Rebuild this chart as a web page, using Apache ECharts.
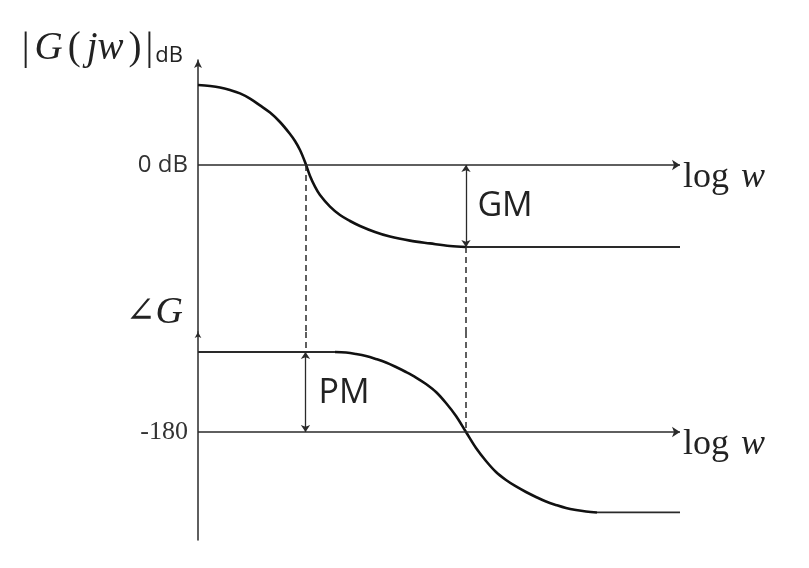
<!DOCTYPE html>
<html>
<head>
<meta charset="utf-8">
<script src="https://cdn.jsdelivr.net/npm/echarts@6/dist/echarts.min.js"></script>
<style>html,body{margin:0;padding:0;background:#fff;}#c{width:809px;height:568px;}</style>
</head>
<body>
<div id="c"></div>
<script>
// ---- data (schematic Bode plot) ----
// x: log w position (0..100), magnitude in dB, phase in degrees
const magX  = [0, 2.49, 4.56, 6.64, 8.71, 10.79, 12.86, 14.94, 17.01, 19.09, 20.12, 21.16, 22.2, 23.24, 24.27, 25.31, 27.39, 29.46, 31.54, 33.61, 36.72, 39.83, 43.98, 48.13, 52.28, 55.6];
const magDb = [20, 19.75, 19.4, 18.75, 17.9, 16.6, 14.9, 13.1, 10.75, 7.75, 6, 3.75, 0.75, -2.75, -5.4, -7.5, -10.4, -12.5, -14, -15.25, -16.75, -17.9, -18.9, -19.6, -20.25, -20.5];
const magTailX  = [55.6, 100];
const magTailDb = [-20.5, -20.5];
const phaseHeadX   = [0, 28.42];
const phaseHeadDeg = [-90, -90];
const phaseX   = [28.42, 30.71, 32.78, 34.85, 36.93, 39.0, 41.08, 43.15, 45.23, 47.3, 49.38, 51.45, 53.53, 55.6,
                  57.68, 59.75, 61.83, 63.9, 65.98, 68.05, 70.12, 72.2, 74.27, 76.35, 78.42, 80.5, 82.78];
const phaseDeg = [-90, -90.6, -92.25, -94.5, -97.9, -101.8, -106.9, -112.5, -118.7, -126, -135, -147.4, -162, -180,
                  -198, -212.6, -225, -234, -241.3, -247.5, -253.1, -258.2, -262.1, -265.5, -267.75, -269.4, -270.5];
const phaseTailX   = [82.78, 100];
const phaseTailDeg = [-270.5, -270.5];
const crossX = [22.3, 55.6];     // gain crossover, phase crossover
const gmDb = -20.5;              // magnitude at phase crossover
const pmDeg = -90;               // phase at gain crossover
const refDb = 0, refDeg = -180;
const magTicks = [0], magTickText = ['0 dB'];
const phaseTicks = [-180], phaseTickText = ['-180'];
const gmLabelPos = [63.7, -10.25];
const pmLabelPos = [30.3, -136];

const zip = (a, b) => a.map((v, i) => [v, b[i]]);
const SERIF = '"Liberation Serif", "DejaVu Serif", serif';
const SANS = '"Open Sans", "Noto Sans", sans-serif';
const LINE = '#2a2a2a';

const logW = {
  show: true, position: 'end', distance: 3,
  formatter: '{a|log}{b|w}',
  padding: [26, 0, 0, 0],
  rich: {
    a: {fontFamily: SERIF, fontSize: 36, color: '#222'},
    b: {fontFamily: SERIF, fontSize: 36, fontStyle: 'italic', color: '#222', padding: [0, 0, 0, 12]}
  }
};

const hidX = (g) => ({type: 'value', gridIndex: g, min: 0, max: 100, show: false});

const option = {
  animation: false,
  backgroundColor: '#fff',
  grid: [
    {left: 198, top: 60, width: 482, height: 272, containLabel: false, outerBoundsMode: 'none'},
    {left: 198, top: 332, width: 482, height: 208, containLabel: false, outerBoundsMode: 'none'}
  ],
  xAxis: [hidX(0), hidX(1)],
  yAxis: [
    {
      type: 'value', gridIndex: 0, min: -41.75, max: 26.25,
      axisLine: {show: true, onZero: false, symbol: ['none', 'arrow'], symbolSize: [6, 8], lineStyle: {color: LINE, width: 1.5}},
      axisTick: {show: false}, splitLine: {show: false},
      axisLabel: {show: true, customValues: magTicks, formatter: (v) => magTickText[magTicks.indexOf(v)],
        fontFamily: SANS, fontSize: 24, color: '#333', margin: 10},
      name: '{u||}{g|G}{u|(}{j|j}{w|w}{u|)}{u||}{s|dB}',
      nameLocation: 'end', nameGap: 11,
      nameTextStyle: {align: 'right', verticalAlign: 'middle', padding: [0, 15, 0, 0],
        rich: {
          u: {fontFamily: SERIF, fontSize: 39, color: '#222', padding: [0, 2, 0, 2]},
          g: {fontFamily: SERIF, fontSize: 39, fontStyle: 'italic', color: '#222', padding: [0, 3, 0, 3]},
          j: {fontFamily: SERIF, fontSize: 39, fontStyle: 'italic', color: '#222', padding: [0, 0, 0, 4]},
          w: {fontFamily: SERIF, fontSize: 39, fontStyle: 'italic', color: '#222', padding: [0, 3, 0, 0]},
          s: {fontFamily: SANS, fontSize: 22, color: '#222', padding: [14, 0, 0, 0]}
        }}
    },
    {
      type: 'value', gridIndex: 1, min: -301.5, max: -67.5,
      axisLine: {show: true, onZero: false, symbol: ['none', 'arrow'], symbolSize: [5, 6], lineStyle: {color: LINE, width: 1.5}},
      axisTick: {show: false}, splitLine: {show: false},
      axisLabel: {show: true, customValues: phaseTicks, formatter: (v) => phaseTickText[phaseTicks.indexOf(v)],
        fontFamily: SERIF, fontSize: 26, color: '#333', margin: 10},
      name: '{g|∠}{i|G}',
      nameLocation: 'end', nameGap: 19,
      nameTextStyle: {align: 'right', verticalAlign: 'middle', padding: [0, 15, 0, 0],
        rich: {
          g: {fontFamily: SERIF, fontSize: 36, color: '#222'},
          i: {fontFamily: SERIF, fontSize: 38, fontStyle: 'italic', color: '#222'}
        }}
    }
  ],
  series: [
    {
      type: 'line', xAxisIndex: 0, yAxisIndex: 0, data: zip(magX, magDb), smooth: 0.35,
      showSymbol: false, silent: true, lineStyle: {color: '#111', width: 2.6},
      markLine: {silent: true, symbol: ['none', 'arrow'], symbolSize: 8,
        lineStyle: {color: LINE, width: 1.5, type: 'solid'}, label: logW,
        data: [{yAxis: refDb}]}
    },
    {
      type: 'line', xAxisIndex: 0, yAxisIndex: 0, data: zip(magTailX, magTailDb),
      showSymbol: false, silent: true, lineStyle: {color: LINE, width: 1.8},
      markLine: {silent: true, symbol: ['arrow', 'arrow'], symbolSize: 7,
        lineStyle: {color: LINE, width: 1.3, type: 'solid'}, label: {show: false},
        data: [[{coord: [crossX[1], refDb]}, {coord: [crossX[1], gmDb]}]]},
      markPoint: {silent: true, symbol: 'circle', symbolSize: 1, itemStyle: {color: 'rgba(0,0,0,0)'},
        label: {show: true, position: 'inside', formatter: 'GM', fontFamily: SANS, fontSize: 34, color: '#222'},
        data: [{coord: gmLabelPos}]}
    },
    {
      type: 'line', xAxisIndex: 0, yAxisIndex: 0, data: [],
      markLine: {silent: true, symbol: ['none', 'none'],
        lineStyle: {color: LINE, width: 1.5, type: [6, 4]}, label: {show: false},
        data: [
          [{coord: [crossX[0], refDb]}, {coord: [crossX[0], -41.75]}],
          [{coord: [crossX[1], gmDb]}, {coord: [crossX[1], -41.75]}]
        ]}
    },
    {
      type: 'line', xAxisIndex: 1, yAxisIndex: 1, data: zip(phaseX, phaseDeg), smooth: 0.35,
      showSymbol: false, silent: true, lineStyle: {color: '#111', width: 2.6},
      markLine: {silent: true, symbol: ['none', 'arrow'], symbolSize: 8,
        lineStyle: {color: LINE, width: 1.5, type: 'solid'}, label: logW,
        data: [{yAxis: refDeg}]}
    },
    {
      type: 'line', xAxisIndex: 1, yAxisIndex: 1, data: zip(phaseHeadX, phaseHeadDeg),
      showSymbol: false, silent: true, lineStyle: {color: LINE, width: 1.8},
      markLine: {silent: true, symbol: ['arrow', 'arrow'], symbolSize: 7,
        lineStyle: {color: LINE, width: 1.3, type: 'solid'}, label: {show: false},
        data: [[{coord: [crossX[0], pmDeg]}, {coord: [crossX[0], refDeg]}]]},
      markPoint: {silent: true, symbol: 'circle', symbolSize: 1, itemStyle: {color: 'rgba(0,0,0,0)'},
        label: {show: true, position: 'inside', formatter: 'PM', fontFamily: SANS, fontSize: 34, color: '#222'},
        data: [{coord: pmLabelPos}]}
    },
    {
      type: 'line', xAxisIndex: 1, yAxisIndex: 1, data: zip(phaseTailX, phaseTailDeg),
      showSymbol: false, silent: true, lineStyle: {color: LINE, width: 1.8}
    },
    {
      type: 'line', xAxisIndex: 1, yAxisIndex: 1, data: [],
      markLine: {silent: true, symbol: ['none', 'none'],
        lineStyle: {color: LINE, width: 1.5, type: [6, 4]}, label: {show: false},
        data: [
          [{coord: [crossX[0], -67.5]}, {coord: [crossX[0], pmDeg]}],
          [{coord: [crossX[1], -67.5]}, {coord: [crossX[1], refDeg]}]
        ]}
    }
  ]
};
const chart = echarts.init(document.getElementById('c'), null, {renderer: 'canvas'});
chart.setOption(option);
</script>
</body>
</html>
